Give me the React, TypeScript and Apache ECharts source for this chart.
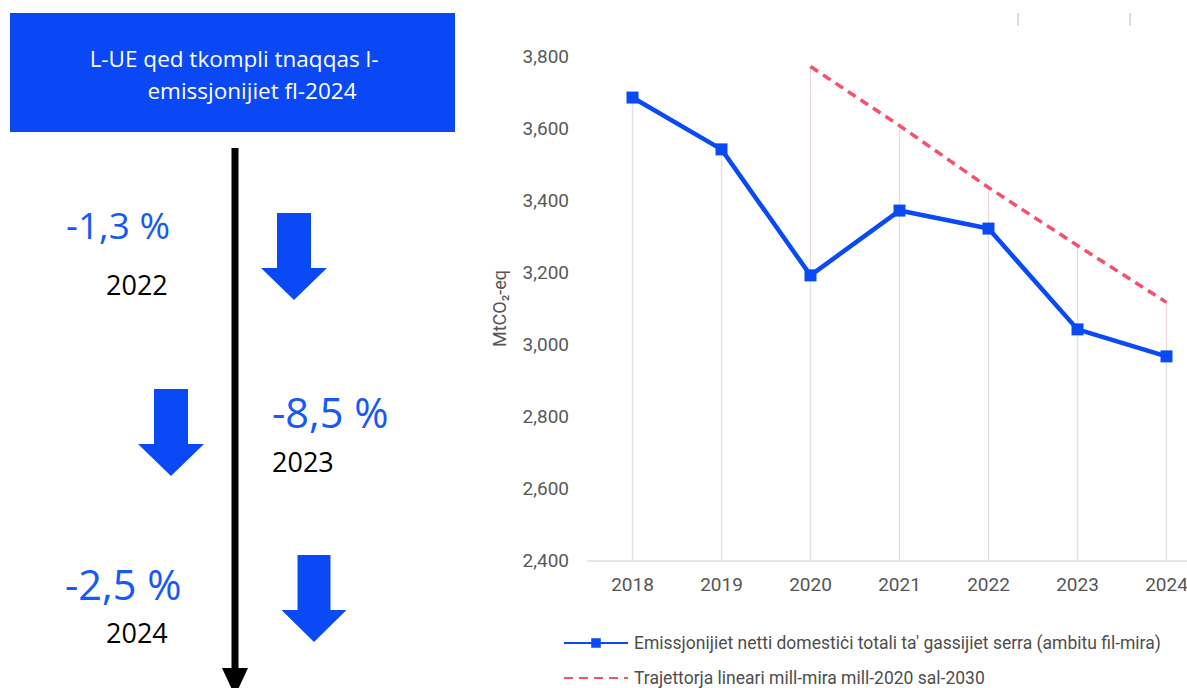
import React, { useEffect, useRef } from "react";
import * as echarts from "echarts";

const years = ["2018", "2019", "2020", "2021", "2022", "2023", "2024"];
const netEmissions = [3686, 3542, 3192, 3372, 3322, 3042, 2967];
const trajectory = [null, null, 3772, 3608, 3436, 3275, 3117];
const yMin = 2400;
const yMax = 3800;
const yStep = 200;
const seriesNames = [
  "Emissjonijiet netti domestiċi totali ta' gassijiet serra (ambitu fil-mira)",
  "Trajettorja lineari mill-mira mill-2020 sal-2030",
];
const yAxisName = "MtCO₂-eq";
const headline = ["L-UE qed tkompli tnaqqas l-", "emissjonijiet fl-2024"];
const changeLabels = ["-1,3 %", "-8,5 %", "-2,5 %"];
const changeYears = ["2022", "2023", "2024"];

const BLUE = "#0a4af6";
const TEXT_BLUE = "#1659f7";
const RED = "#f5506c";
const LEFT_FONT = "'Open Sans', 'Noto Sans', sans-serif";
const CHART_FONT = "Roboto, 'Noto Sans', sans-serif";
const LEGEND_FONT = "Roboto, 'Noto Sans', sans-serif";

function downArrow(cx: number, top: number, headY: number, tip: number, shaftHalf: number, headHalf: number) {
  return {
    type: "polygon",
    shape: {
      points: [
        [cx - shaftHalf, top],
        [cx + shaftHalf, top],
        [cx + shaftHalf, headY],
        [cx + headHalf, headY],
        [cx, tip],
        [cx - headHalf, headY],
        [cx - shaftHalf, headY],
      ],
    },
    style: { fill: BLUE },
  };
}

function txt(text: string, x: number, y: number, size: number, color: string) {
  return {
    type: "text",
    x,
    y,
    style: {
      text,
      fill: color,
      font: `${size}px ${LEFT_FONT}`,
      align: "left",
      verticalAlign: "middle",
    },
  };
}

function legendFor(name: string, top: number, hideSymbol: boolean) {
  const lg: any = {
    data: [name],
    orient: "horizontal",
    left: 563,
    top,
    padding: 0,
    itemWidth: 64,
    itemHeight: 12,
    itemGap: 6,
    selectedMode: false,
    textStyle: { fontFamily: LEGEND_FONT, fontSize: 17.5, color: "#4d4d4d", padding: [0, 0, 0, 1] },
  };
  if (hideSymbol) lg.itemStyle = { opacity: 0 };
  return lg;
}

export default function App() {
  const ref = useRef<HTMLDivElement>(null);

  useEffect(() => {
    if (!ref.current) return;
    const chart = echarts.init(ref.current, null, { renderer: "svg" });

    const maxTop = years.map((_, i) =>
      Math.max(netEmissions[i], trajectory[i] == null ? -Infinity : (trajectory[i] as number))
    );

    const option: any = {
      animation: false,
      backgroundColor: "#ffffff",
      grid: { left: 588, right: 0, top: 56.5, bottom: 127.5, containLabel: false },
      legend: [legendFor(seriesNames[0], 634, false), legendFor(seriesNames[1], 669, true)],
      xAxis: {
        type: "category",
        data: years,
        boundaryGap: true,
        axisLine: { show: true, lineStyle: { color: "#dedede", width: 1.5 } },
        axisTick: { show: false },
        axisLabel: { color: "#555555", fontFamily: CHART_FONT, fontSize: 19, margin: 14 },
        splitLine: { show: false },
      },
      yAxis: {
        type: "value",
        min: yMin,
        max: yMax,
        interval: yStep,
        name: yAxisName,
        nameLocation: "middle",
        nameGap: 80,
        nameTextStyle: { color: "#555555", fontFamily: CHART_FONT, fontSize: 18 },
        axisLine: { show: false },
        axisTick: { show: false },
        splitLine: { show: false },
        axisLabel: {
          color: "#595959",
          fontFamily: CHART_FONT,
          fontSize: 19,
          margin: 19,
          formatter: (v: number) => v.toLocaleString("en-US"),
        },
      },
      series: [
        {
          type: "custom",
          name: "dropTrajectory",
          silent: true,
          z: 1,
          data: years.map((_, i) => [i, maxTop[i]]),
          renderItem: (params: any, api: any) => {
            const top = api.coord([api.value(0), api.value(1)]);
            const bottom = api.coord([api.value(0), yMin]);
            return {
              type: "line",
              shape: { x1: top[0], y1: top[1], x2: bottom[0], y2: bottom[1] },
              style: { stroke: "#ecd8de", lineWidth: 1.2 },
            };
          },
        },
        {
          type: "custom",
          name: "dropNet",
          silent: true,
          z: 2,
          data: years.map((_, i) => [i, netEmissions[i]]),
          renderItem: (params: any, api: any) => {
            const top = api.coord([api.value(0), api.value(1)]);
            const bottom = api.coord([api.value(0), yMin]);
            return {
              type: "line",
              shape: { x1: top[0], y1: top[1], x2: bottom[0], y2: bottom[1] },
              style: { stroke: "#e2e2e2", lineWidth: 1.2 },
            };
          },
        },
        {
          type: "line",
          name: seriesNames[0],
          data: netEmissions,
          z: 5,
          symbol: "rect",
          symbolSize: 12,
          itemStyle: { color: BLUE },
          lineStyle: { color: BLUE, width: 4.5 },
        },
        {
          type: "line",
          name: seriesNames[1],
          data: trajectory,
          z: 4,
          symbol: "none",
          connectNulls: false,
          itemStyle: { color: RED },
          lineStyle: { color: RED, width: 3.5, type: [9, 6] },
        },
      ],
      graphic: [
        { type: "rect", shape: { x: 10, y: 13, width: 445, height: 119 }, style: { fill: "#0a47f5" } },
        {
          type: "text",
          x: 234,
          y: 58,
          style: { text: headline[0], fill: "#ffffff", font: `22.5px ${LEFT_FONT}`, align: "center", verticalAlign: "middle" },
        },
        {
          type: "text",
          x: 252,
          y: 90,
          style: { text: headline[1], fill: "#ffffff", font: `22.5px ${LEFT_FONT}`, align: "center", verticalAlign: "middle" },
        },
        { type: "line", shape: { x1: 235, y1: 148, x2: 235, y2: 670 }, style: { stroke: "#000000", lineWidth: 7 } },
        { type: "polygon", shape: { points: [[222, 668], [248, 668], [235, 696]] }, style: { fill: "#000000" } },
        downArrow(294, 213, 268, 300, 17, 33),
        downArrow(171, 389, 444, 476, 17, 33),
        downArrow(314, 555, 610, 642, 16.5, 32.5),
        txt(changeLabels[0], 66, 224, 37, TEXT_BLUE),
        txt(changeYears[0], 106, 284, 27, "#000000"),
        txt(changeLabels[1], 272, 412, 41.5, TEXT_BLUE),
        txt(changeYears[1], 272, 461, 27, "#000000"),
        txt(changeLabels[2], 65, 584, 41.5, TEXT_BLUE),
        txt(changeYears[2], 106, 632, 27, "#000000"),
        { type: "line", shape: { x1: 1018, y1: 13, x2: 1018, y2: 26 }, style: { stroke: "#dddddd", lineWidth: 2 } },
        { type: "line", shape: { x1: 1130, y1: 13, x2: 1130, y2: 26 }, style: { stroke: "#dddddd", lineWidth: 2 } },
      ],
    };

    chart.setOption(option);
    return () => chart.dispose();
  }, []);

  return (
    <div style={{ position: "absolute", left: 0, top: 0, width: 1187, height: 688, overflow: "hidden" }}>
      <div ref={ref} style={{ width: 1211, height: 688 }} />
    </div>
  );
}
